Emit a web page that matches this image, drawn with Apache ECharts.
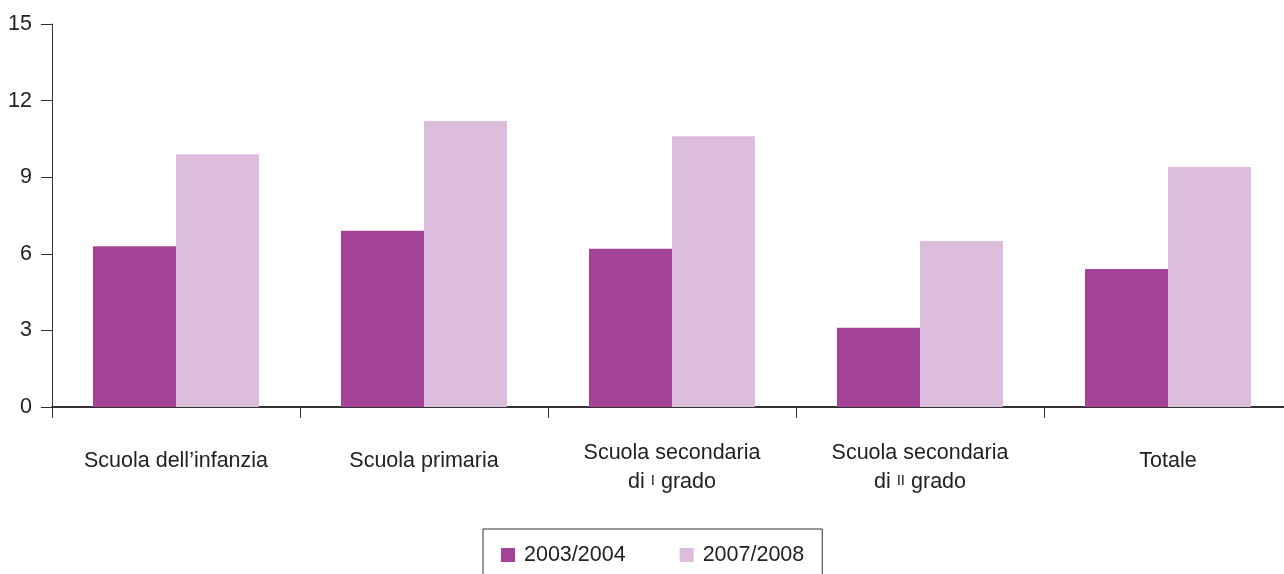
<!DOCTYPE html>
<html>
<head>
<meta charset="utf-8">
<script src="https://cdn.jsdelivr.net/npm/echarts@6/dist/echarts.min.js"></script>
<style>
  html, body { margin: 0; padding: 0; background: #fff; overflow: hidden; }
  #wrap { width: 1284px; height: 574px; overflow: hidden; }
  /* plot area runs slightly past the right edge of the page */
  #chart { width: 1292px; height: 574px; }
</style>
</head>
<body>
<div id="wrap"><div id="chart"></div></div>
<script>
// School levels (category axis)
const categories = [
  'Scuola dell\u2019infanzia',
  'Scuola primaria',
  'Scuola secondaria\ndi I grado',
  'Scuola secondaria\ndi II grado',
  'Totale'
];
// Y axis ticks
const yTicks = [0, 3, 6, 9, 12, 15];
// Series values by school year
const seriesNames = ['2003/2004', '2007/2008'];
const values2003 = [6.3, 6.9, 6.2, 3.1, 5.4];
const values2007 = [9.9, 11.2, 10.6, 6.5, 9.4];

const FONT = '"Liberation Sans", Arial, Helvetica, sans-serif';
const FS = 21.5;
const AXIS = '#333333';
const TEXT = '#222222';

const chart = echarts.init(document.getElementById('chart'), null, { renderer: 'canvas' });

function labelFormatter(value) {
  if (value.indexOf('\n') >= 0) {
    // Roman numerals shown as small capitals
    return value.replace(/ (I+) /, ' {r|$1} ');
  }
  return '{one|' + value + '}';
}

chart.setOption({
  animation: false,
  backgroundColor: '#ffffff',
  textStyle: { fontFamily: FONT },
  grid: { left: 52, top: 24, right: 0, height: 383, containLabel: false },
  legend: {
    data: seriesNames,
    left: 483,
    top: 529,
    orient: 'horizontal',
    icon: 'rect',
    itemWidth: 14,
    itemHeight: 14,
    itemGap: 54,
    padding: [15, 18, 22, 18],
    borderColor: AXIS,
    borderWidth: 1,
    textStyle: { fontFamily: FONT, fontSize: FS, color: TEXT, padding: [0, 0, 0, 4] }
  },
  xAxis: {
    type: 'category',
    data: categories,
    boundaryGap: true,
    axisLine: { show: true, lineStyle: { color: AXIS, width: 2 } },
    axisTick: { show: true, length: 11, interval: 0, lineStyle: { color: AXIS, width: 1 } },
    axisLabel: {
      interval: 0,
      margin: 32,
      fontFamily: FONT,
      fontSize: FS,
      color: TEXT,
      lineHeight: 29,
      formatter: labelFormatter,
      rich: {
        r: { fontFamily: FONT, fontSize: 15, color: TEXT, padding: [0, 0, 3, 0] },
        one: { fontFamily: FONT, fontSize: FS, color: TEXT, lineHeight: 45 }
      }
    },
    splitLine: { show: false }
  },
  yAxis: {
    type: 'value',
    min: yTicks[0],
    max: yTicks[yTicks.length - 1],
    interval: 3,
    axisLine: { show: true, lineStyle: { color: AXIS, width: 1 } },
    axisTick: { show: true, length: 11, lineStyle: { color: AXIS, width: 1 } },
    axisLabel: { margin: 20, fontFamily: FONT, fontSize: FS, color: TEXT },
    splitLine: { show: false }
  },
  series: [
    {
      name: seriesNames[0],
      type: 'bar',
      data: values2003,
      barWidth: 83,
      barGap: '0%',
      itemStyle: { color: '#A44497' }
    },
    {
      name: seriesNames[1],
      type: 'bar',
      data: values2007,
      barWidth: 83,
      barGap: '0%',
      itemStyle: { color: '#DCBEDC' }
    }
  ]
});
</script>
</body>
</html>
